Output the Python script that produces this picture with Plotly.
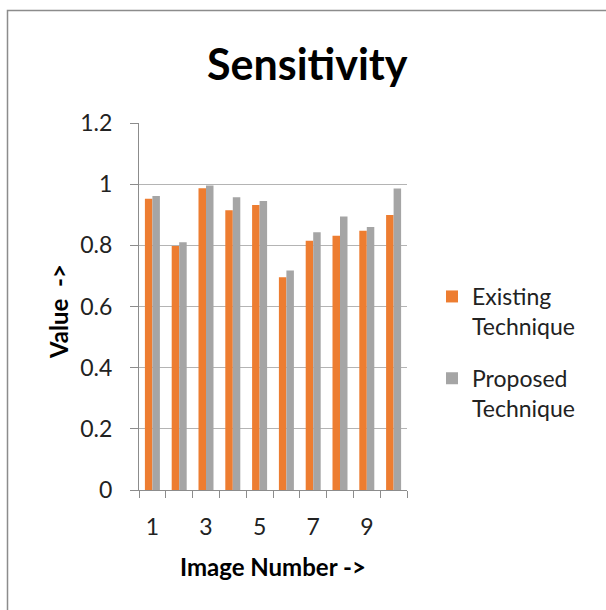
import plotly.graph_objects as go

# Sensitivity per test image for the two techniques
image_numbers = [1, 2, 3, 4, 5, 6, 7, 8, 9, 10]
existing = [0.952, 0.798, 0.987, 0.915, 0.932, 0.696, 0.815, 0.831, 0.848, 0.899]
proposed = [0.961, 0.810, 0.996, 0.957, 0.945, 0.718, 0.843, 0.894, 0.860, 0.986]
x_tick_values = [1, 3, 5, 7, 9]
y_tick_values = [0, 0.2, 0.4, 0.6, 0.8, 1.0, 1.2]

ORANGE = "#ED7D31"
GRAY = "#A5A5A5"
FONT = "Lato"

fig = go.Figure()
fig.add_trace(go.Bar(x=image_numbers, y=existing, name="Existing<br>Technique",
                     marker=dict(color=ORANGE, line=dict(width=0)), legendgroup="a"))
fig.add_trace(go.Bar(x=image_numbers, y=proposed, name="Proposed<br>Technique",
                     marker=dict(color=GRAY, line=dict(width=0)), legendgroup="b"))

L, R, T, B = 139, 199, 123, 120
W, H = 606, 610
pw, ph = W - L - R, H - T - B

def px_x(p):
    return (p - L) / pw

def px_y(p):
    return (H - B - p) / ph

fig.update_layout(
    width=W, height=H,
    margin=dict(l=L, r=R, t=T, b=B),
    paper_bgcolor="white", plot_bgcolor="white",
    barmode="group", bargap=0.44, bargroupgap=0,
    font=dict(family=FONT, color="#222"),
    showlegend=True,
    legend=dict(x=px_x(432), y=px_y(275), xanchor="left", yanchor="top",
                valign="top", tracegroupgap=19,
                font=dict(size=23, family=FONT, color="#222"),
                itemsizing="constant", itemwidth=30),
    xaxis=dict(
        range=[0.5, 10.5], tickmode="array", tickvals=x_tick_values,
        ticks="", ticklabelstandoff=16,
        showline=True, linecolor="#8c8c8c", linewidth=1,
        showgrid=False, zeroline=False,
        tickfont=dict(size=23, family=FONT, color="#222"),
        minor=dict(ticks="outside", tick0=0.5, dtick=1, ticklen=7,
                   tickcolor="#8c8c8c", showgrid=False),
    ),
    yaxis=dict(
        range=[0, 1.2], tickmode="array", tickvals=y_tick_values,
        ticks="outside", ticklen=8, tickcolor="#8c8c8c",
        ticklabelstandoff=13,
        showline=True, linecolor="#8c8c8c", linewidth=1,
        showgrid=True, gridcolor="#b4b4b4", gridwidth=1,
        zeroline=False,
        tickfont=dict(size=23, family=FONT, color="#222"),
    ),
    annotations=[
        dict(text="<b>Sensitivity</b>", x=px_x(307), y=px_y(63),
             xref="paper", yref="paper", showarrow=False,
             xanchor="center", yanchor="middle",
             font=dict(size=43, family=FONT, color="black")),
        dict(text="<b>Image Number -></b>", x=px_x(273), y=px_y(566),
             xref="paper", yref="paper", showarrow=False,
             xanchor="center", yanchor="middle",
             font=dict(size=24, family=FONT, color="black")),
        dict(text="<b>Value  -></b>", x=px_x(58), y=px_y(312),
             xref="paper", yref="paper", showarrow=False, textangle=-90,
             xanchor="center", yanchor="middle",
             font=dict(size=24, family=FONT, color="black")),
    ],
    shapes=[
        dict(type="rect", xref="paper", yref="paper",
             x0=px_x(7.5), y0=px_y(640), x1=px_x(640), y1=px_y(10.5),
             line=dict(color="#8c8c8c", width=1.5), layer="below"),
    ],
)

fig.write_html("out.html")
